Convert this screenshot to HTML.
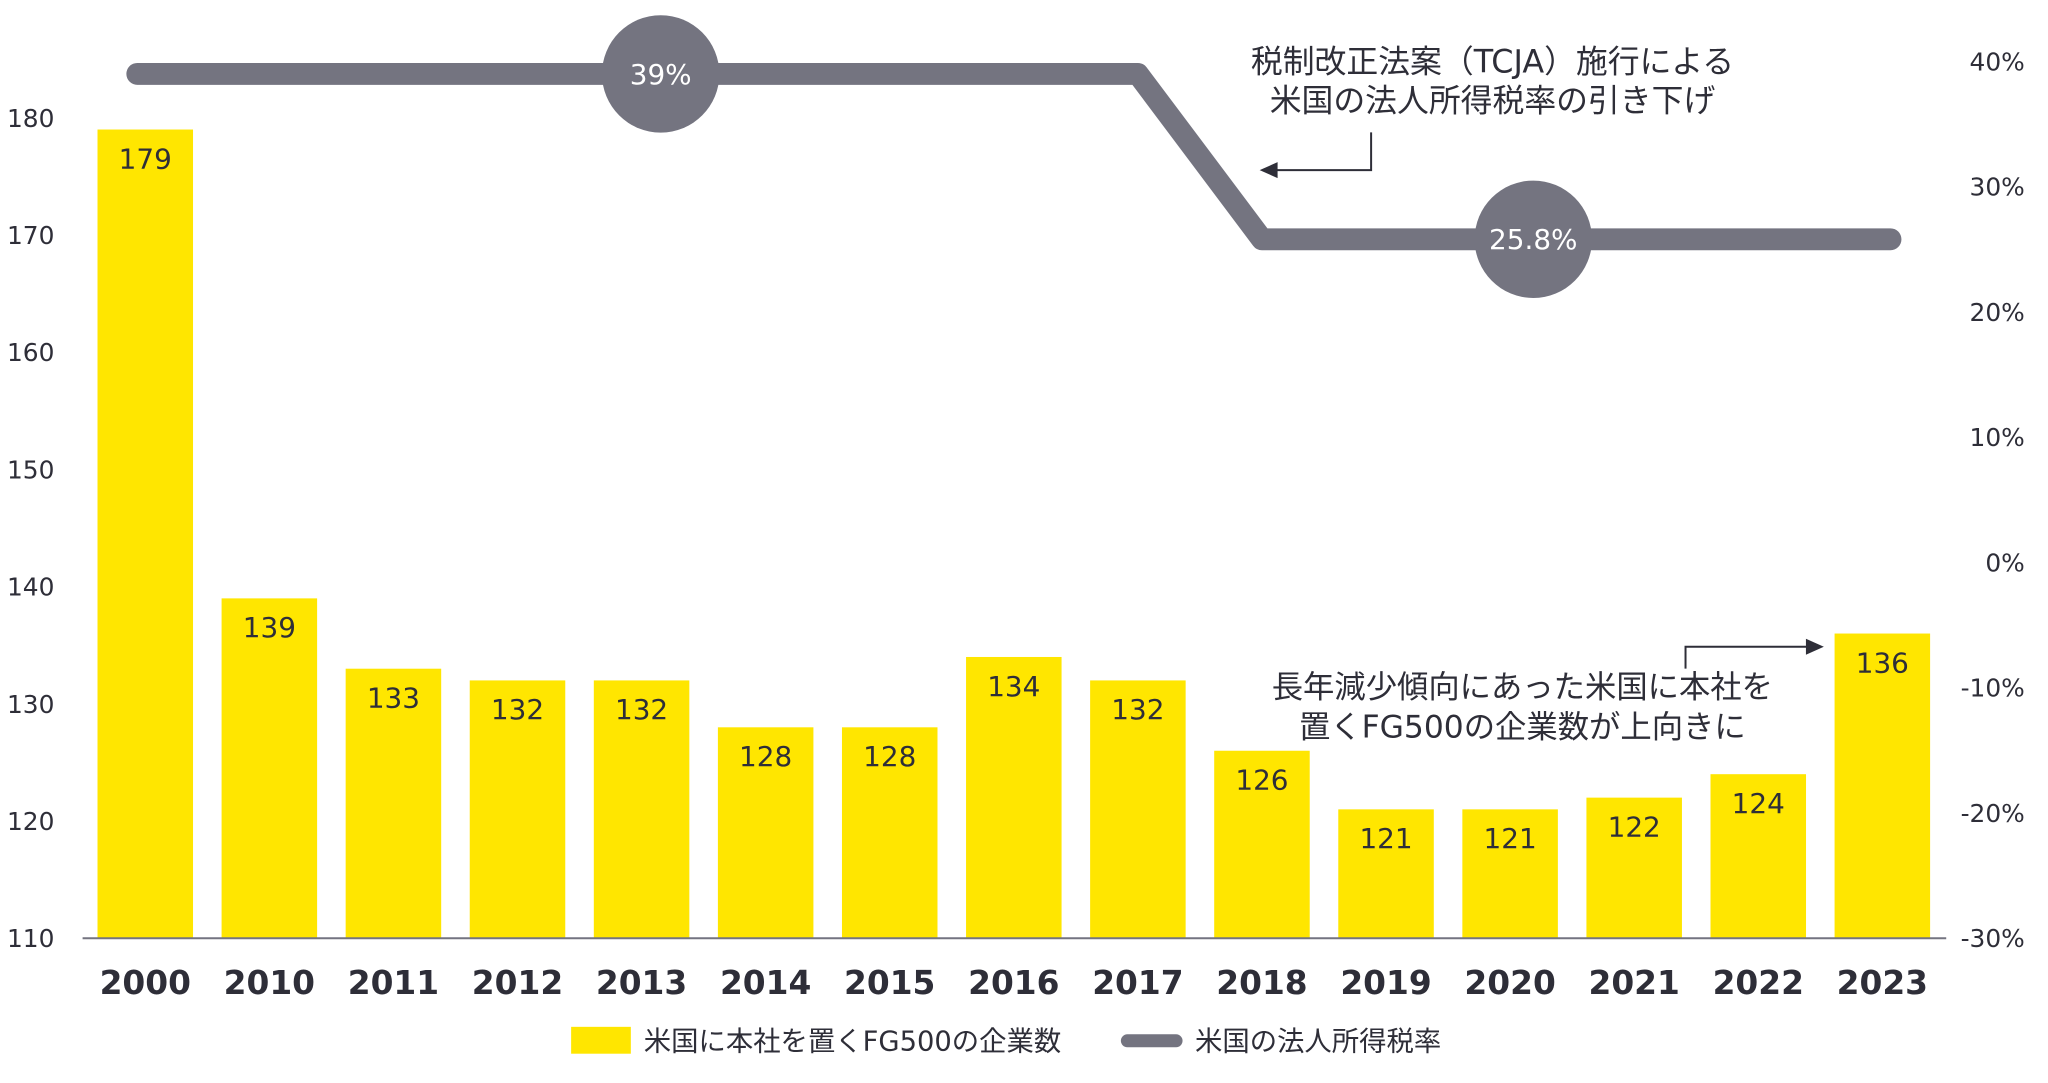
<!DOCTYPE html>
<html><head><meta charset="utf-8"><style>
body{margin:0;background:#fff}
svg text{font-family:"DejaVu Sans","Liberation Sans","Noto Sans CJK JP",sans-serif;fill:#2e2e38}
</style></head><body>
<svg width="2048" height="1078"><g id="c" transform="scale(0.995)"></g></svg>
<script>
const years=["2000","2010","2011","2012","2013","2014","2015","2016","2017","2018","2019","2020","2021","2022","2023"];
const counts=[179,139,133,132,132,128,128,134,132,126,121,121,122,124,136];
const rates=[39,39,39,39,39,39,39,39,39,25.8,25.8,25.8,25.8,25.8,25.8];
const leftTicks=[110,120,130,140,150,160,170,180];
const rightTicks=[-30,-20,-10,0,10,20,30,40];
const NS="http://www.w3.org/2000/svg",svg=document.getElementById('c');
function el(t,a,txt){const e=document.createElementNS(NS,t);for(const k in a)e.setAttribute(k,a[k]);if(txt!=null)e.textContent=txt;svg.appendChild(e);return e;}
const base=943;
const yL=v=>base-(v-110)*11.78;
const yR=v=>943-(v+30)*12.59;
const xC=i=>146+i*124.7;
const bw=96;
let e;
leftTicks.forEach(t=>{e=el('text',{x:7,y:yL(t)+9,'font-size':25},t);

});
rightTicks.forEach(t=>{e=el('text',{x:2035,y:yR(t)+9,'font-size':25,'text-anchor':'end'},t+'%');

});
counts.forEach((v,i)=>{
e=el('rect',{x:xC(i)-bw/2,y:yL(v),width:bw,height:base-yL(v),fill:'#FFE600'});


e=el('text',{x:xC(i),y:yL(v)+39,'font-size':28,'text-anchor':'middle'},v);


e=el('text',{x:xC(i),y:999,'font-size':33,'font-weight':'bold','text-anchor':'middle'},years[i]);


});
e=el('line',{x1:83,x2:1956,y1:base,y2:base,stroke:'#747480','stroke-width':2});


let pts=rates.map((r,i)=>[xC(i),yR(r)]);
pts[0][0]=138;pts[pts.length-1][0]=1900;
e=el('polyline',{points:pts.map(p=>p.join(',')).join(' '),fill:'none',stroke:'#747480','stroke-width':22,'stroke-linecap':'round','stroke-linejoin':'round'});


[[664,rates[0],'39%'],[1541,rates[14],'25.8%']].forEach(([x,r,l],k)=>{
e=el('circle',{cx:x,cy:yR(r),r:59,fill:'#747480'});


e=el('text',{x:x,y:yR(r)+10,'font-size':28,'text-anchor':'middle',style:'fill:#fff'},l);


});
e=el('text',{x:1500,y:73,'font-size':32,'text-anchor':'middle'},'税制改正法案（TCJA）施行による');


e=el('text',{x:1500,y:112,'font-size':32,'text-anchor':'middle'},'米国の法人所得税率の引き下げ');


e=el('polyline',{points:'1378,133 1378,171 1282,171',fill:'none',stroke:'#2e2e38','stroke-width':2});


e=el('polygon',{points:'1266,171 1284,163 1284,179',fill:'#2e2e38'});


e=el('text',{x:1530,y:701,'font-size':31.5,'text-anchor':'middle'},'長年減少傾向にあった米国に本社を');


e=el('text',{x:1530,y:741,'font-size':31.5,'text-anchor':'middle'},'置くFG500の企業数が上向きに');


e=el('polyline',{points:'1694,672 1694,650 1817,650',fill:'none',stroke:'#2e2e38','stroke-width':2});


e=el('polygon',{points:'1833,650 1815,642 1815,658',fill:'#2e2e38'});


e=el('rect',{x:574,y:1032,width:60,height:27,fill:'#FFE600'});


e=el('text',{x:647,y:1056,'font-size':27.5},'米国に本社を置くFG500の企業数');


e=el('line',{x1:1133,x2:1182,y1:1046,y2:1046,stroke:'#747480','stroke-width':13,'stroke-linecap':'round'});


e=el('text',{x:1201,y:1056,'font-size':27.5},'米国の法人所得税率');


</script>
</body></html>
